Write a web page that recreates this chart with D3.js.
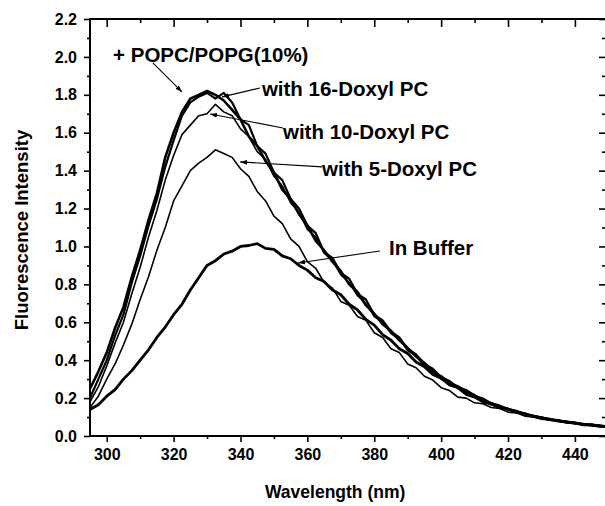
<!DOCTYPE html>
<html><head><meta charset="utf-8">
<script src="https://cdn.jsdelivr.net/npm/d3@7"></script>
<style>
html,body{margin:0;padding:0;background:#fff;}
svg{display:block;}
text{font-family:"Liberation Sans",Arial,sans-serif;font-weight:bold;fill:#000;}
</style></head>
<body>
<script>
const wavelengths = [295,297.5,300,302.5,305,307.5,310,312.5,315,317.5,320,322.5,325,327.5,330,332.5,335,337.5,340,342.5,345,347.5,350,352.5,355,357.5,360,362.5,365,367.5,370,372.5,375,377.5,380,382.5,385,387.5,390,392.5,395,397.5,400,402.5,405,407.5,410,412.5,415,417.5,420,422.5,425,427.5,430,432.5,435,437.5,440,442.5,445,447.5,450];

const popc = [0.25,0.34,0.44,0.57,0.68,0.84,0.98,1.14,1.28,1.47,1.60,1.71,1.78,1.80,1.82,1.80,1.77,1.72,1.67,1.58,1.53,1.45,1.39,1.30,1.25,1.17,1.11,1.03,0.98,0.92,0.87,0.80,0.76,0.69,0.645,0.59,0.555,0.505,0.465,0.42,0.385,0.34,0.315,0.28,0.262,0.235,0.215,0.188,0.173,0.155,0.143,0.125,0.118,0.104,0.097,0.086,0.082,0.073,0.07,0.06,0.06,0.052,0.05];

const doxyl16 = [0.20,0.30,0.40,0.53,0.64,0.81,0.95,1.11,1.25,1.42,1.56,1.69,1.76,1.79,1.81,1.78,1.81,1.76,1.67,1.64,1.53,1.49,1.39,1.35,1.25,1.20,1.11,1.07,0.97,0.94,0.86,0.83,0.75,0.72,0.64,0.61,0.55,0.52,0.46,0.43,0.38,0.355,0.31,0.29,0.255,0.243,0.212,0.198,0.172,0.16,0.142,0.133,0.116,0.108,0.096,0.09,0.08,0.077,0.068,0.064,0.058,0.056,0.05];

const doxyl10 = [0.18,0.26,0.37,0.49,0.60,0.75,0.89,1.05,1.19,1.35,1.48,1.59,1.64,1.69,1.70,1.75,1.71,1.69,1.62,1.58,1.50,1.46,1.37,1.32,1.23,1.18,1.09,1.05,0.965,0.925,0.85,0.81,0.74,0.70,0.63,0.60,0.54,0.51,0.45,0.42,0.37,0.345,0.30,0.285,0.25,0.235,0.205,0.195,0.167,0.157,0.137,0.128,0.11,0.106,0.092,0.089,0.078,0.075,0.066,0.064,0.055,0.055,0.049];

const doxyl5 = [0.15,0.21,0.30,0.38,0.48,0.59,0.72,0.84,0.98,1.10,1.24,1.32,1.40,1.44,1.47,1.51,1.49,1.47,1.41,1.37,1.29,1.24,1.16,1.12,1.04,1.00,0.92,0.885,0.81,0.78,0.71,0.69,0.63,0.61,0.545,0.52,0.46,0.44,0.38,0.36,0.315,0.295,0.255,0.24,0.205,0.2,0.175,0.17,0.15,0.145,0.126,0.122,0.105,0.1,0.088,0.085,0.075,0.072,0.063,0.062,0.054,0.052,0.046];

const buffer = [0.14,0.165,0.21,0.245,0.30,0.345,0.40,0.455,0.52,0.575,0.64,0.695,0.77,0.835,0.90,0.925,0.96,0.975,1.00,1.005,1.015,0.99,0.985,0.95,0.935,0.90,0.875,0.835,0.815,0.77,0.745,0.695,0.665,0.615,0.585,0.535,0.505,0.46,0.435,0.39,0.365,0.325,0.305,0.27,0.255,0.22,0.205,0.18,0.168,0.15,0.142,0.126,0.118,0.103,0.097,0.086,0.082,0.072,0.069,0.059,0.058,0.051,0.049];

const xMajorTicks = [300,320,340,360,380,400,420,440];
const xMinorTicks = [310,330,350,370,390,410,430];
const yMajorTicks = [0.0,0.2,0.4,0.6,0.8,1.0,1.2,1.4,1.6,1.8,2.0,2.2];
const yMinorTicks = [0.1,0.3,0.5,0.7,0.9,1.1,1.3,1.5,1.7,1.9,2.1];

const seriesWidths = [2.6,2.2,1.6,1.6,2.8];

const annLabels = ["+ POPC/POPG(10%)","with 16-Doxyl PC","with 10-Doxyl PC","with 5-Doxyl PC","In Buffer"];
const annTextPos = [[301.9,1.974],[346.4,1.794],[352.7,1.567],[364.4,1.372],[384.4,0.955]];
const annArrowFrom = [[313.8,1.968],[345.8,1.836],[352.7,1.625],[364.4,1.42],[381.7,0.976]];
const annArrowTo = [[322.5,1.815],[334.5,1.789],[330.9,1.699],[339.9,1.446],[357.2,0.913]];

const W = 605, H = 506;
const L = 90, T = 19, B = 436;
const xs = d3.scaleLinear().domain([295, 449]).range([L, 605]);
const R = xs(449.6);
const ys = d3.scaleLinear().domain([0, 2.2]).range([B, T]);

const svg = d3.select("body").append("svg").attr("width", W).attr("height", H);
const defs = svg.append("defs");
defs.append("clipPath").attr("id","clip")
  .append("rect").attr("x",L).attr("y",T).attr("width",R-L).attr("height",B-T);
const marker = defs.append("marker").attr("id","arr")
  .attr("viewBox","0 0 10 10").attr("refX",10).attr("refY",5)
  .attr("markerWidth",7).attr("markerHeight",7).attr("markerUnits","userSpaceOnUse")
  .attr("orient","auto");
marker.append("path").attr("d","M0,1.5 L10,5 L0,8.5 Z").attr("fill","#000");

const allSeries = [popc, doxyl16, doxyl10, doxyl5, buffer];
const line = d3.line().x((d,i)=>xs(wavelengths[i])).y(d=>ys(d));
const g = svg.append("g").attr("clip-path","url(#clip)");
allSeries.forEach((s,k)=>{
  g.append("path").datum(s).attr("d", line).attr("fill","none")
   .attr("stroke","#000").attr("stroke-width", seriesWidths[k]).attr("stroke-linejoin","round");
});

// axes
const fmt = d3.format(".1f");
const axBottom = svg.append("g").attr("transform",`translate(0,${B})`)
  .call(d3.axisBottom(xs).tickValues(xMajorTicks).tickSize(6).tickPadding(7).tickFormat(d3.format("d")));
const axBottomMinor = svg.append("g").attr("transform",`translate(0,${B})`)
  .call(d3.axisBottom(xs).tickValues(xMinorTicks).tickSize(3).tickFormat(""));
const axTop = svg.append("g").attr("transform",`translate(0,${T})`)
  .call(d3.axisBottom(xs).tickValues(xMajorTicks).tickSize(8).tickFormat(""));
const axTopMinor = svg.append("g").attr("transform",`translate(0,${T})`)
  .call(d3.axisBottom(xs).tickValues(xMinorTicks).tickSize(4).tickFormat(""));
const axLeft = svg.append("g").attr("transform",`translate(${L},0)`)
  .call(d3.axisLeft(ys).tickValues(yMajorTicks).tickSize(6).tickPadding(7).tickFormat(fmt));
const axLeftMinor = svg.append("g").attr("transform",`translate(${L},0)`)
  .call(d3.axisLeft(ys).tickValues(yMinorTicks).tickSize(3).tickFormat(""));
const axRight = svg.append("g").attr("transform",`translate(${R},0)`)
  .call(d3.axisLeft(ys).tickValues(yMajorTicks).tickSize(8).tickFormat(""));
const axRightMinor = svg.append("g").attr("transform",`translate(${R},0)`)
  .call(d3.axisLeft(ys).tickValues(yMinorTicks).tickSize(5).tickFormat(""));
[axBottom,axBottomMinor,axTop,axTopMinor,axLeft,axLeftMinor,axRight,axRightMinor].forEach(a=>{
  a.select(".domain").remove();
  a.selectAll("line").attr("stroke","#000").attr("stroke-width",1.6);
  a.selectAll("text").style("font-size","16px").style("font-family","'Liberation Sans',Arial,sans-serif").style("font-weight","bold").attr("fill","#000");
});
svg.append("rect").attr("x",L).attr("y",T).attr("width",R-L).attr("height",B-T)
  .attr("fill","none").attr("stroke","#000").attr("stroke-width",2);

// titles
svg.append("text").attr("x", 265).attr("y", 498).style("font-size","17.5px").text("Wavelength (nm)");
svg.append("text").attr("transform","translate(28,230) rotate(-90)").attr("text-anchor","middle")
  .style("font-size","18.5px").text("Fluorescence Intensity");

// annotations
annLabels.forEach((t,i)=>{
  svg.append("text").attr("x", xs(annTextPos[i][0])).attr("y", ys(annTextPos[i][1]))
    .style("font-size","20.5px").text(t);
  svg.append("line").attr("x1", xs(annArrowFrom[i][0])).attr("y1", ys(annArrowFrom[i][1]))
    .attr("x2", xs(annArrowTo[i][0])).attr("y2", ys(annArrowTo[i][1]))
    .attr("stroke","#000").attr("stroke-width",1.1).attr("marker-end","url(#arr)");
});
</script>
</body></html>
